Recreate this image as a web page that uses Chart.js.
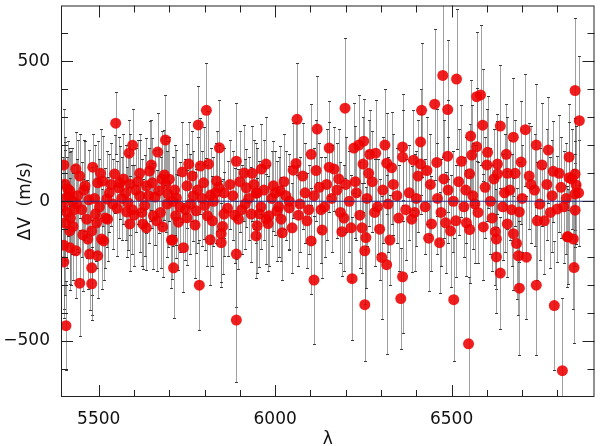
<!DOCTYPE html>
<html>
<head>
<meta charset="utf-8">
<title>ΔV vs λ</title>
<script src="https://cdn.jsdelivr.net/npm/chart.js@4.4.1/dist/chart.umd.min.js"></script>
<style>
  html, body { margin: 0; padding: 0; background: #fff; }
  #wrap { width: 600px; height: 446px; position: relative; }
</style>
</head>
<body>
<div id="wrap"><canvas id="rvChart"></canvas></div>
<script>
const lambda = [
    5398, 5401, 5401, 5401, 5404, 5404, 5405, 5407, 5410, 5415,
    5418, 5418, 5418, 5420, 5425, 5430, 5435, 5435, 5440, 5446,
    5446, 5452, 5458, 5461, 5466, 5469, 5474, 5480, 5480, 5480,
    5483, 5488, 5494, 5497, 5497, 5502, 5508, 5511, 5514, 5523,
    5525, 5530, 5540, 5545, 5548, 5556, 5560, 5565, 5576, 5579,
    5586, 5588, 5588, 5595, 5596, 5605, 5616, 5616, 5625, 5630,
    5635, 5635, 5644, 5652, 5655, 5660, 5667, 5670, 5675, 5681,
    5686, 5689, 5690, 5696, 5700, 5706, 5709, 5710, 5712, 5718,
    5720, 5730, 5737, 5740, 5750, 5750, 5755, 5760, 5768, 5776,
    5780, 5782, 5785, 5788, 5797, 5800, 5805, 5808, 5811, 5816,
    5817, 5825, 5834, 5840, 5842, 5847, 5847, 5855, 5855, 5865,
    5880, 5890, 5890, 5890, 5896, 5905, 5912, 5918, 5925, 5932,
    5940, 5946, 5946, 5949, 5949, 5960, 5961, 5974, 5974, 5982,
    5990, 6000, 6005, 6014, 6017, 6020, 6030, 6040, 6040, 6048,
    6051, 6059, 6062, 6070, 6085, 6095, 6102, 6102, 6110, 6110,
    6119, 6125, 6133, 6140, 6153, 6153, 6160, 6167, 6175, 6185,
    6189, 6198, 6200, 6210, 6215, 6218, 6223, 6230, 6237, 6240,
    6246, 6249, 6251, 6254, 6254, 6257, 6260, 6268, 6275, 6285,
    6290, 6296, 6302, 6305, 6311, 6316, 6316, 6320, 6325, 6335,
    6345, 6356, 6361, 6361, 6361, 6370, 6380, 6387, 6392, 6400,
    6412, 6412, 6415, 6425, 6435, 6440, 6443, 6452, 6458, 6460,
    6466, 6470, 6475, 6483, 6489, 6489, 6490, 6497, 6505, 6506,
    6514, 6520, 6528, 6535, 6542, 6548, 6551, 6551, 6554, 6557,
    6560, 6571, 6571, 6575, 6582, 6588, 6590, 6595, 6602, 6610,
    6620, 6624, 6627, 6627, 6630, 6630, 6638, 6638, 6645, 6655,
    6658, 6658, 6665, 6675, 6675, 6680, 6684, 6689, 6692, 6692,
    6700, 6709, 6712, 6720, 6735, 6740, 6740, 6743, 6750, 6763,
    6770, 6774, 6785, 6788, 6791, 6799, 6810, 6814, 6825, 6828,
    6830, 6833, 6833, 6840, 6845, 6847, 6850, 6850, 6850, 6850,
    6853, 6860, 6862,
    5412, 5427, 5438, 5455, 5472, 5491, 5505, 5519, 5535, 5552,
    5570, 5583, 5600, 5611, 5622, 5641, 5649, 5664, 5679, 5694,
    5715, 5726, 5745, 5765, 5773, 5793, 5822, 5831, 5851, 5872,
    5885, 5900, 5915, 5935, 5955, 5968, 5980, 5995, 6010, 6025,
    6066, 6078, 6090, 6116, 6130, 6146, 6180, 6195, 6227, 6265,
    6282, 6330, 6350, 6395, 6405, 6430, 6478, 6512, 6540, 6566,
    6600, 6615, 6650, 6670, 6697, 6725, 6756, 6780, 6805, 6818
];
const deltaV = [
    -20, 130, -157, -217, 61, -77, 10, -445, -40, 20,
    37, -106, -166, -60, 0, -30, 116, -177, 20, 90,
    -293, -30, 40, 55, -64, -135, -189, -106, -238, -295,
    122, 10, -77, 66, -195, -20, -135, 72, -142, 8,
    -64, 30, -10, 97, 279, 48, 66, 10, 30, -38,
    172, 61, -81, -30, 200, 40, 100, 19, -81, -15,
    55, -95, 108, 66, -52, 15, 176, 37, -40, -92,
    94, 219, 60, 26, 79, -139, -139, 0, -238, -52,
    12, -20, 105, -166, 55, -59, 133, -10, 19, -34,
    40, 273, -300, 126, 66, -15, 325, -52, 133, -138,
    22, 0, 72, 50, 191, -116, -148, 30, -46, -25,
    20, 143, -189, -425, -64, -30, 101, 48, 10, -46,
    60, 29, -124, 30, -88, -20, 115, 133, -64, -52,
    10, 30, -35, 37, -64, -113, 20, 0, -24, -95,
    111, 135, 293, -10, 30, -30, 168, -142, 20, -282,
    258, 50, -103, -20, 190, 122, 10, 115, 40, -40,
    -109, 333, 60, 0, -95, -277, 190, 30, 201, -50,
    -95, 133, 215, -177, -370, -130, 10, 168, 70, 172,
    -20, -100, -201, 40, 201, 136, -227, -10, -139, 60,
    20, -348, 194, 158, -270, -30, 30, -64, 147, 10,
    212, 133, 325, -20, -132, 60, -81, 347, 139, 10,
    -148, -40, 450, -77, 328, 161, 40, -106, 0, -352,
    437, 70, 143, -20, -77, -510, 98, -101, 233, 165,
    20, 374, 195, -40, 380, 272, -92, 50, 175, 0,
    80, -109, -135, -199, 97, 133, 269, -257, -20, 168,
    100, -81, 40, 229, -116, 100, -151, -195, -38, -311,
    10, 256, -200, 90, 40, 201, -300, -70, -10, -70,
    60, 183, 20, 107, -373, -28, 50, -606, 10, -127,
    -127, 158, 84, 80, -135, -237, 396, 97, 26, -32,
    58, 30, 288,
    45, -90, -10, -120, 5, -45, 100, -60, 60, -25,
    80, -5, -50, 70, -40, 20, 130, -70, 80, -10,
    40, -75, -30, 90, -85, 10, -70, 30, -90, 60,
    -50, 70, -10, 100, -45, 40, -80, 55, -20, 70,
    -50, 90, -70, 110, -30, 60, 80, -60, 70, 100,
    -40, 120, -60, -40, 90, 110, 80, -70, 40, -10,
    130, -60, 30, -30, 140, 60, 130, -40, 100, -20
];
const sigma = [
    180, 200, 230, 200, 150, 260, 220, 160, 200, 170,
    140, 190, 150, 240, 190, 160, 130, 170, 200, 150,
    190, 170, 180, 160, 140, 180, 200, 230, 170, 130,
    120, 190, 160, 150, 150, 170, 180, 160, 140, 170,
    150, 140, 160, 140, 110, 180, 130, 150, 170, 160,
    120, 180, 170, 160, 130, 150, 140, 200, 160, 180,
    170, 150, 180, 160, 190, 170, 140, 150, 200, 180,
    160, 160, 170, 190, 150, 170, 140, 160, 180, 150,
    170, 160, 180, 160, 150, 170, 150, 180, 160, 150,
    190, 140, 160, 170, 200, 160, 170, 180, 190, 160,
    170, 160, 180, 150, 170, 190, 140, 160, 150, 170,
    160, 210, 190, 220, 180, 160, 170, 140, 150, 170,
    160, 180, 150, 160, 170, 150, 160, 170, 160, 180,
    170, 150, 180, 160, 150, 170, 160, 170, 150, 160,
    170, 150, 200, 170, 180, 160, 180, 190, 170, 230,
    190, 160, 170, 180, 170, 160, 190, 150, 170, 180,
    160, 250, 170, 180, 190, 220, 160, 170, 180, 190,
    160, 170, 150, 190, 200, 180, 170, 160, 180, 190,
    170, 180, 220, 190, 200, 180, 320, 170, 160, 180,
    170, 180, 190, 170, 200, 180, 170, 190, 180, 170,
    190, 180, 240, 170, 190, 180, 170, 270, 190, 200,
    180, 190, 290, 180, 250, 200, 190, 200, 180, 220,
    250, 190, 200, 180, 190, 240, 180, 190, 200, 180,
    190, 230, 210, 180, 250, 200, 190, 180, 200, 190,
    180, 190, 180, 200, 190, 180, 220, 200, 190, 180,
    200, 190, 180, 210, 200, 190, 200, 210, 180, 240,
    190, 200, 220, 190, 200, 220, 250, 210, 200, 190,
    200, 190, 200, 180, 230, 190, 180, 260, 200, 180,
    170, 190, 200, 180, 250, 270, 260, 200, 190, 200,
    210, 190, 230,
    170, 190, 160, 200, 180, 170, 160, 180, 150, 170,
    160, 170, 180, 150, 190, 170, 160, 180, 170, 190,
    160, 170, 180, 160, 190, 170, 160, 180, 170, 160,
    170, 180, 160, 170, 190, 180, 170, 160, 180, 170,
    180, 190, 170, 180, 190, 200, 180, 190, 200, 190,
    190, 200, 190, 210, 200, 190, 210, 200, 190, 210,
    200, 190, 210, 200, 220, 210, 220, 200, 210, 200
];

const xRange = [5393, 6905];
const yRange = [-700, 700];
const xMajor = [5500, 6000, 6500];
const yMajor = [-500, 0, 500];
const minorStep = 100;

const FONT = "'DejaVu Sans', sans-serif";
const points = lambda.map((x, i) => ({ x: x, y: deltaV[i], err: sigma[i] }));

// vertical error bars, drawn under the points
const errorBars = {
    id: 'errorBars',
    beforeDatasetsDraw(chart) {
        const { ctx, chartArea: a, scales: { x, y } } = chart;
        ctx.save();
        ctx.beginPath();
        ctx.rect(a.left, a.top, a.width, a.height);
        ctx.clip();
        ctx.lineWidth = 1;
        points.forEach(p => {
            const px = Math.round(x.getPixelForValue(p.x)) + 0.5;
            const top = Math.round(y.getPixelForValue(p.y + p.err)) + 0.5;
            const bot = Math.round(y.getPixelForValue(p.y - p.err)) + 0.5;
            ctx.strokeStyle = 'rgba(110,110,110,0.65)';
            ctx.beginPath();
            ctx.moveTo(px, top);
            ctx.lineTo(px, bot);
            ctx.stroke();
            ctx.strokeStyle = 'rgba(40,40,40,0.9)';
            ctx.beginPath();
            ctx.moveTo(px - 1.5, top);
            ctx.lineTo(px + 1.5, top);
            ctx.moveTo(px - 1.5, bot);
            ctx.lineTo(px + 1.5, bot);
            ctx.stroke();
        });
        ctx.restore();
    }
};

// box frame with inward ticks on all four sides
const frameTicks = {
    id: 'frameTicks',
    afterDraw(chart) {
        const { ctx, chartArea: a, scales: { x, y } } = chart;
        ctx.save();
        ctx.strokeStyle = '#222';
        ctx.lineWidth = 1;
        ctx.strokeRect(a.left + 0.5, a.top + 0.5, a.width - 1, a.height - 1);
        ctx.beginPath();
        x.ticks.forEach(t => {
            if (t.value % minorStep !== 0) return;
            const px = Math.round(x.getPixelForValue(t.value)) + 0.5;
            const len = xMajor.includes(t.value) ? 12 : 7;
            ctx.moveTo(px, a.bottom);
            ctx.lineTo(px, a.bottom - len);
            ctx.moveTo(px, a.top);
            ctx.lineTo(px, a.top + len);
        });
        y.ticks.forEach(t => {
            if (t.value % minorStep !== 0) return;
            if (t.value === yRange[0] || t.value === yRange[1]) return;
            const py = Math.round(y.getPixelForValue(t.value)) + 0.5;
            const len = yMajor.includes(t.value) ? 12 : 7;
            ctx.moveTo(a.left, py);
            ctx.lineTo(a.left + len, py);
            ctx.moveTo(a.right, py);
            ctx.lineTo(a.right - len, py);
        });
        ctx.stroke();
        ctx.restore();
    }
};

new Chart(document.getElementById('rvChart'), {
    type: 'scatter',
    data: {
        datasets: [
            {
                type: 'line',
                data: [{ x: xRange[0], y: 0 }, { x: xRange[1], y: 0 }],
                borderColor: '#1f2a8a',
                borderWidth: 1,
                pointRadius: 0,
                order: 0
            },
            {
                data: points,
                backgroundColor: 'rgba(238,0,0,0.88)',
                borderWidth: 0,
                pointRadius: 5.5,
                order: 1
            }
        ]
    },
    options: {
        responsive: true,
        maintainAspectRatio: false,
        animation: false,
        events: [],
        layout: { padding: { top: 4, right: 4, left: 0, bottom: 0 } },
        plugins: { legend: { display: false }, tooltip: { enabled: false } },
        scales: {
            x: {
                type: 'linear',
                min: xRange[0],
                max: xRange[1],
                grid: { display: false, drawTicks: false },
                border: { display: false },
                ticks: {
                    stepSize: minorStep,
                    autoSkip: false,
                    maxRotation: 0,
                    padding: 12,
                    color: '#111',
                    font: { family: FONT, size: 17 },
                    callback: v => xMajor.includes(v) ? String(v) : ''
                },
                title: {
                    display: true,
                    text: 'λ',
                    color: '#111',
                    font: { family: FONT, size: 17 },
                    padding: { top: 0, bottom: -4 }
                },
                afterFit: s => {
                    s.height = 49;
                    s.paddingLeft = 0;
                    s.paddingRight = 0;
                }
            },
            y: {
                type: 'linear',
                min: yRange[0],
                max: yRange[1],
                grid: { display: false, drawTicks: false },
                border: { display: false },
                ticks: {
                    stepSize: minorStep,
                    autoSkip: false,
                    padding: 11,
                    color: '#111',
                    font: { family: FONT, size: 17 },
                    callback: v => yMajor.includes(v) ? (v < 0 ? '\u2212' + Math.abs(v) : String(v)) : ''
                },
                title: {
                    display: true,
                    text: 'ΔV  (m/s)',
                    color: '#111',
                    font: { family: FONT, size: 17 },
                    padding: { top: 15, bottom: 0 }
                },
                afterFit: s => {
                    s.width = 61;
                    s.paddingTop = 0;
                    s.paddingBottom = 0;
                }
            }
        }
    },
    plugins: [errorBars, frameTicks]
});
</script>
</body>
</html>
